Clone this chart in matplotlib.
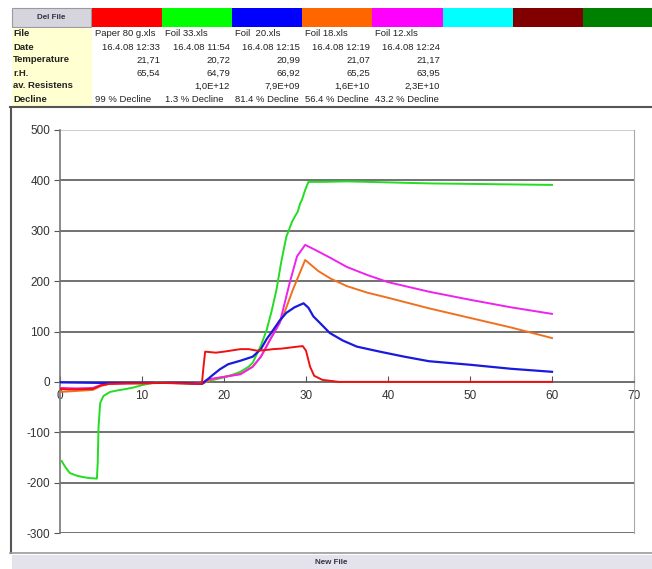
import matplotlib
matplotlib.use("Agg")
import matplotlib.pyplot as plt
from matplotlib.patches import Rectangle
from matplotlib.lines import Line2D

plt.rcParams['font.family'] = ['Liberation Sans', 'DejaVu Sans']
plt.rcParams['axes.unicode_minus'] = False

W, H = 652, 569

# header table
labels = ["File", "Date", "Temperature", "r.H.", "av. Resistens", "Decline"]
files = ["Paper 80 g.xls", "Foil 33.xls", "Foil  20.xls", "Foil 18.xls", "Foil 12.xls"]
dates = ["16.4.08 12:33", "16.4.08 11:54", "16.4.08 12:15", "16.4.08 12:19", "16.4.08 12:24"]
temps = ["21,71", "20,72", "20,99", "21,07", "21,17"]
rhs = ["65,54", "64,79", "66,92", "65,25", "63,95"]
resist = ["", "1,0E+12", "7,9E+09", "1,6E+10", "2,3E+10"]
declines = ["99 % Decline", "1.3 % Decline", "81.4 % Decline", "56.4 % Decline", "43.2 % Decline"]
swatches = ["#ff0000", "#00ff00", "#0000ff", "#ff6600", "#ff00ff", "#00ffff", "#800000", "#008000"]

# series (time in minutes, signal)
red_x = [0, 1, 4, 5, 6, 8, 10, 12, 15, 17.3, 17.5, 17.7, 19, 20, 22, 23, 24, 25, 26, 27, 28, 29, 29.6, 30, 30.5, 31, 32, 33, 34, 40, 50, 60]
red_y = [-14, -15, -14, -7, -4, -3, -3, -2, -3, -4, 30, 60, 58, 60, 65, 65, 62, 63, 65, 66, 68, 70, 71, 62, 30, 12, 4, 2, 0, 0, 0, 0]

green_x = [0.2, 0.6, 1.2, 2, 2.8, 3.6, 4.5, 4.6, 4.7, 4.9, 5.3, 6.1, 7, 8.1, 9, 10.1, 11.7, 13, 15, 17.3, 18, 19, 20, 21, 22, 23, 23.5, 24, 24.5, 25.2, 25.8, 26.4, 27, 27.6, 28.3, 28.7, 29, 29.3, 29.5, 29.9, 30.3, 32, 35, 40, 45, 50, 55, 60]
green_y = [-157, -168, -181, -186, -189, -191, -192, -160, -89, -42, -28, -20, -17, -14, -11, -6, -1, -2, -3, -4, 2, 5, 9, 14, 20, 30, 38, 55, 72, 103, 140, 183, 240, 288, 318, 330, 338, 355, 361, 381, 397, 397, 398, 396, 394, 393, 392, 391]

blue_x = [0, 5, 10, 15, 17.3, 18, 18.5, 19.5, 20.5, 22, 23.5, 24.5, 25.2, 26, 26.8, 27.6, 28.6, 29.7, 30.3, 30.9, 32, 32.9, 34.5, 36.2, 39, 42, 45, 50, 55, 60]
blue_y = [-1, -2, -2, -2, -4, 5, 12, 25, 35, 42, 50, 65, 85, 103, 122, 137, 148, 156, 147, 130, 112, 97, 82, 70, 60, 50, 41, 34, 26, 20]

orange_x = [0, 1, 2, 4, 5, 6, 8, 10, 13, 17.3, 18.5, 20, 22, 23.5, 24.5, 25.5, 26.3, 27.2, 28.4, 29.9, 31.5, 33, 35, 37.5, 40, 45, 50, 55, 60]
orange_y = [-20, -19, -18, -16, -8, -4, -3, -3, -2, -4, 5, 10, 16, 30, 50, 80, 105, 130, 183, 242, 220, 205, 190, 177, 167, 146, 127, 108, 87]

magenta_x = [0, 2, 4, 5, 6, 8, 10, 13, 17.3, 18, 20, 22, 23.5, 24.5, 25.5, 26.8, 28, 28.9, 29.9, 31, 33, 35, 37.5, 40, 45, 50, 55, 60]
magenta_y = [-12, -13, -12, -6, -3, -3, -2, -2, -3, 5, 10, 15, 30, 50, 80, 117, 196, 249, 272, 263, 246, 228, 212, 198, 179, 163, 148, 135]

fig = plt.figure(figsize=(W / 100, H / 100), dpi=100)
fig.patch.set_facecolor("white")


def fx(px):
    return px / W


def fy(py):
    return 1 - py / H


def box(x0, y0, x1, y1, **kw):
    fig.patches.append(Rectangle((fx(x0), fy(y1)), fx(x1) - fx(x0), fy(y0) - fy(y1),
                                 transform=fig.transFigure, figure=fig, **kw))


def hline(x0, x1, py, **kw):
    fig.lines.append(Line2D([fx(x0), fx(x1)], [fy(py), fy(py)], transform=fig.transFigure, figure=fig, **kw))


def vline(px, y0, y1, **kw):
    fig.lines.append(Line2D([fx(px), fx(px)], [fy(y0), fy(y1)], transform=fig.transFigure, figure=fig, **kw))


# Del File button and colour swatches
box(12, 8, 91, 27, facecolor="#d6d4dc", edgecolor="#9a9aa4", linewidth=0.8)
fig.text(fx(51), fy(17.5), "Del File", ha="center", va="center", fontsize=5.8, fontweight="bold", color="#333344")
for i, c in enumerate(swatches):
    box(92 + i * 70.1, 8, 92 + (i + 1) * 70.1, 27, facecolor=c, edgecolor="none")

# label column
box(12, 28, 92, 106, facecolor="#ffffd2", edgecolor="none")
row_y = [34, 47, 60, 73, 86, 99]
for ry, lab in zip(row_y, labels):
    fig.text(fx(13), fy(ry), lab, ha="left", va="center", fontsize=6.8, fontweight="bold", color="#222222")

col_left = [95, 165, 235, 305, 375]
col_right = [160, 230, 300, 370, 440]
fs = 6.8
for i in range(5):
    fig.text(fx(col_left[i]), fy(row_y[0]), files[i], ha="left", va="center", fontsize=fs, color="#222222")
    fig.text(fx(col_right[i]), fy(row_y[1]), dates[i], ha="right", va="center", fontsize=fs, color="#222222")
    fig.text(fx(col_right[i]), fy(row_y[2]), temps[i], ha="right", va="center", fontsize=fs, color="#222222")
    fig.text(fx(col_right[i]), fy(row_y[3]), rhs[i], ha="right", va="center", fontsize=fs, color="#222222")
    fig.text(fx(col_right[i]), fy(row_y[4]), resist[i], ha="right", va="center", fontsize=fs, color="#222222")
    fig.text(fx(col_left[i]), fy(row_y[5]), declines[i], ha="left", va="center", fontsize=fs, color="#222222")

# chart frame
hline(10, 652, 107, color="#555555", linewidth=1.5)
vline(11, 107, 553, color="#555555", linewidth=1.5)
hline(10, 652, 553, color="#999999", linewidth=1.2)
box(12, 555, 652, 569, facecolor="#e4e2ea", edgecolor="none")
fig.text(fx(331), fy(563), "New File", ha="center", va="center", fontsize=5.8, fontweight="bold", color="#333344")

# plot area
ax = fig.add_axes([fx(60), fy(533), fx(634) - fx(60), fy(130) - fy(533)])
ax.set_xlim(0, 70)
ax.set_ylim(-300, 500)
ax.set_facecolor("white")

for v in range(-300, 600, 100):
    if v != 0:
        ax.axhline(v, color="#666666" if v != 500 else "#c8c8c8", linewidth=1.3, zorder=1)

ax.plot(red_x, red_y, color="#ee1111", linewidth=1.4, zorder=6)
ax.plot(green_x, green_y, color="#22dd22", linewidth=1.4, zorder=3)
ax.plot(orange_x, orange_y, color="#f07020", linewidth=1.4, zorder=4)
ax.plot(magenta_x, magenta_y, color="#ee22ee", linewidth=1.4, zorder=4)
ax.plot(blue_x, blue_y, color="#1a1add", linewidth=1.6, zorder=5)

ax.spines['top'].set_visible(False)
ax.spines['bottom'].set_position(('data', 0))
ax.spines['bottom'].set_color("#555555")
ax.spines['left'].set_color("#777777")
ax.spines['right'].set_color("#aaaaaa")
ax.spines['left'].set_linewidth(1.2)
ax.spines['bottom'].set_linewidth(1.2)

ax.set_xticks(range(0, 80, 10))
ax.set_yticks(range(-300, 600, 100))
ax.tick_params(axis='x', direction='in', length=4, colors="#555555", labelcolor="#333333", labelsize=8.5, pad=6)
ax.tick_params(axis='y', direction='out', length=4, colors="#555555", labelcolor="#333333", labelsize=8.5, pad=3)

fig.savefig("out.png", dpi=100)
